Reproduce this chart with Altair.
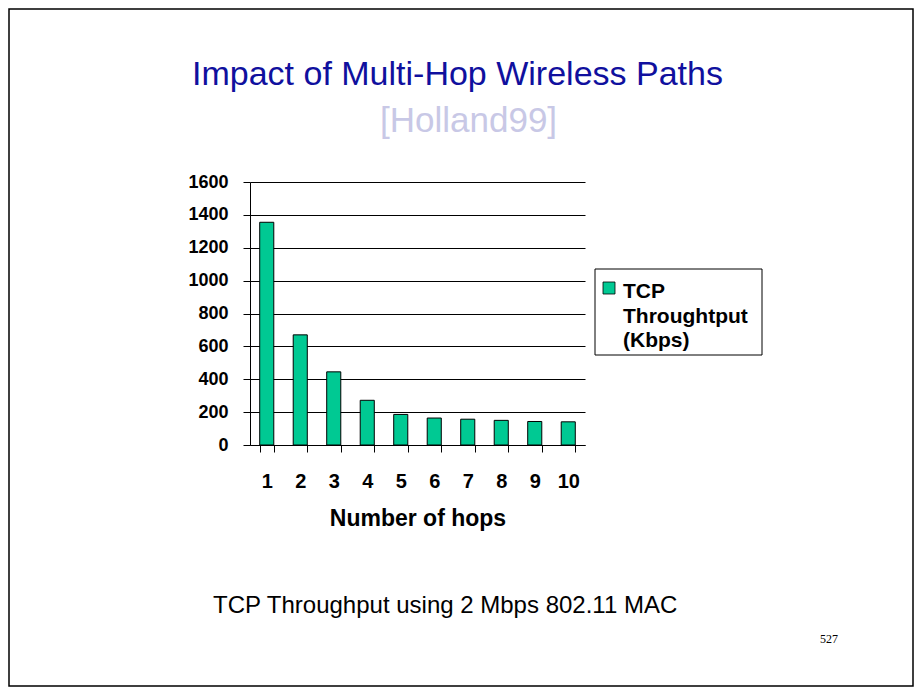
import altair as alt
import pandas as pd

hops = [1, 2, 3, 4, 5, 6, 7, 8, 9, 10]
throughput = [1355, 670, 445, 272, 186, 164, 157, 150, 143, 141]
y_ticks = [0, 200, 400, 600, 800, 1000, 1200, 1400, 1600]

title_text = "Impact of Multi-Hop Wireless Paths"
subtitle_text = "[Holland99]"
x_title = "Number of hops"
legend_lines = ["TCP", "Throughtput", "(Kbps)"]
caption_text = "TCP Throughput using 2 Mbps 802.11 MAC"
page_text = "527"

BAR = "#00C993"
W, H = 335, 263

df = pd.DataFrame({"hops": hops, "tp": throughput})

bars = alt.Chart(df).mark_bar(color=BAR, stroke="black", strokeWidth=1).encode(
    x=alt.X("hops:O", title=x_title,
            scale=alt.Scale(paddingInner=0.58, paddingOuter=0.29),
            axis=alt.Axis(labelAngle=0, labelFont="Arial", labelFontWeight="bold",
                          labelFontSize=20, labelColor="black", tickColor="black",
                          domainColor="black", tickSize=7, tickBand="extent",
                          labelPadding=19, titleFont="Arial", titleFontSize=23,
                          titleFontWeight="bold", titleColor="black", titlePadding=16)),
    y=alt.Y("tp:Q", title=None,
            scale=alt.Scale(domain=[0, 1600], nice=False),
            axis=alt.Axis(values=y_ticks, format="d", labelFont="Arial",
                          labelFontWeight="bold", labelFontSize=18, labelColor="black",
                          tickColor="black", domainColor="black", tickSize=7,
                          labelPadding=15, grid=True, gridColor="black",
                          gridWidth=1, gridOpacity=1)),
)


def txt(t, x, y, **kw):
    return alt.Chart(pd.DataFrame({"t": [t]})).mark_text(**kw).encode(
        x=alt.value(x), y=alt.value(y), text="t:N")


title = txt(title_text, -58, -97, font="Arial", fontSize=34, color="#10109E",
            align="left", baseline="alphabetic")
subtitle = txt(subtitle_text, 130, -50, font="Arial", fontSize=35, color="#C8C8E6",
               align="left", baseline="alphabetic")
caption = txt(caption_text, -37, 431, font="Arial", fontSize=24, color="black",
              align="left", baseline="alphabetic")
page = txt(page_text, 579, 461, font="Liberation Serif", fontSize=12, color="black",
           align="center", baseline="alphabetic")

legend_box = alt.Chart(pd.DataFrame({"a": [0]})).mark_rect(
    fill="white", stroke="black", strokeWidth=1).encode(
    x=alt.value(345), x2=alt.value(512), y=alt.value(87), y2=alt.value(173))
legend_sym = alt.Chart(pd.DataFrame({"a": [0]})).mark_rect(
    fill=BAR, stroke="black", strokeWidth=0.8).encode(
    x=alt.value(353), x2=alt.value(365), y=alt.value(100), y2=alt.value(112))
legend_txt = txt("\n".join(legend_lines), 373, 116, font="Arial", fontSize=21,
                 fontWeight="bold", color="black", align="left", baseline="alphabetic",
                 lineBreak="\n", lineHeight=24.5)

frame = alt.Chart(pd.DataFrame({"a": [0]})).mark_rect(
    fill=None, stroke="black", strokeWidth=1.5).encode(
    x=alt.value(-241), x2=alt.value(663), y=alt.value(-173), y2=alt.value(504))

chart = alt.layer(frame, bars, legend_box, legend_sym, legend_txt, title, subtitle,
                  caption, page).properties(
    width=W, height=H,
    autosize=alt.AutoSizeParams(type="none"),
    padding={"left": 242, "top": 174, "right": 329, "bottom": 242},
    background="white",
).configure_view(stroke=None)

chart.save("out.html", embed_options={"renderer": "svg", "actions": False})
